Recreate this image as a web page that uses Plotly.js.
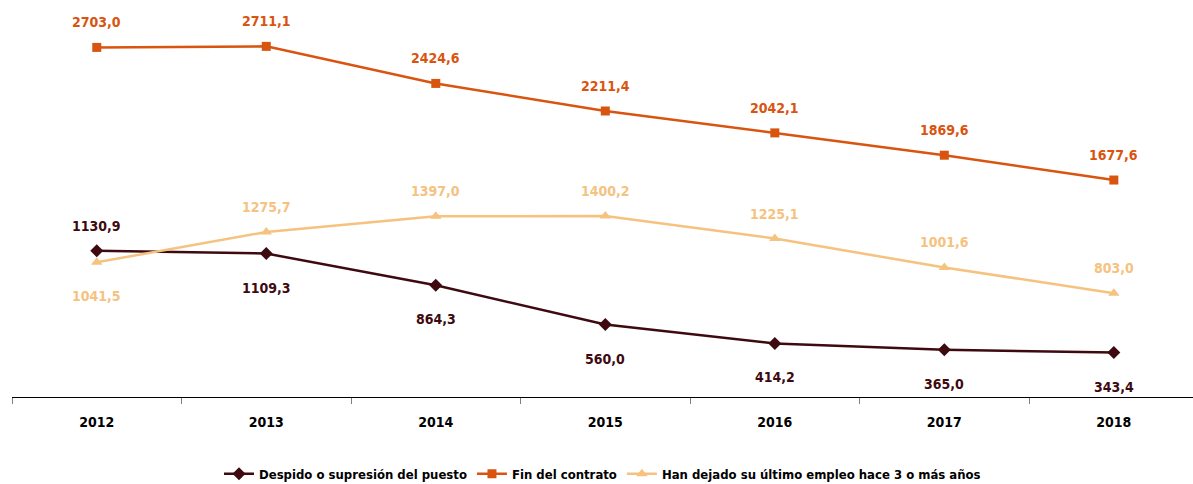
<!DOCTYPE html>
<html>
<head>
<meta charset="utf-8">
<script src="https://cdn.plot.ly/plotly-3.0.1.min.js"></script>
<style>html,body{margin:0;padding:0;background:#fff;}#chart{width:1193px;height:484px;}</style>
</head>
<body>
<div id="chart"></div>
<script>
const years = ["2012","2013","2014","2015","2016","2017","2018"];
const despido = [1130.9, 1109.3, 864.3, 560.0, 414.2, 365.0, 343.4];
const finContrato = [2703.0, 2711.1, 2424.6, 2211.4, 2042.1, 1869.6, 1677.6];
const hanDejado = [1041.5, 1275.7, 1397.0, 1400.2, 1225.1, 1001.6, 803.0];

const seriesNames = ["Despido o supresión del puesto", "Fin del contrato", "Han dejado su último empleo hace 3 o más años"];
const colors = ["#3E0A10", "#D9540F", "#F5C27F"];
const FONT = "'DejaVu Sans Condensed', 'Liberation Sans Narrow', sans-serif";

function fmt(v){ return v.toFixed(1).replace('.', ','); }

const traces = [
  {x: years, y: despido, name: seriesNames[0], mode: 'lines+markers', line:{color:colors[0], width:2.5}, marker:{symbol:'diamond', size:10, color:colors[0]}},
  {x: years, y: finContrato, name: seriesNames[1], mode: 'lines+markers', line:{color:colors[1], width:2.5}, marker:{symbol:'square', size:9, color:colors[1]}},
  {x: years, y: hanDejado, name: seriesNames[2], mode: 'lines+markers', line:{color:colors[2], width:2.5}, marker:{symbol:'triangle-up', size:10, color:colors[2]}}
];

// label placement: +1 above, -1 below
const despidoPos = [1,-1,-1,-1,-1,-1,-1];
const finPos = [1,1,1,1,1,1,1];
const hanPos = [-1,1,1,1,1,1,1];

const annotations = [];
function addLabels(vals, pos, color){
  vals.forEach((v,i)=>{
    annotations.push({x: i, y: v, xref:'x', yref:'y', text: fmt(v), showarrow:false,
      yshift: pos[i] > 0 ? 25 : -34, font:{family:FONT, size:14, color:color, weight:'bold'}});
  });
}
addLabels(despido, despidoPos, colors[0]);
addLabels(finContrato, finPos, colors[1]);
addLabels(hanDejado, hanPos, colors[2]);

const layout = {
  width: 1193, height: 484,
  margin: {l:12, r:0, t:9, b:87, autoexpand:false},
  paper_bgcolor:'#fff', plot_bgcolor:'#fff',
  font: {family: FONT, size: 14, color:'#000'},
  showlegend: true,
  legend: {orientation:'h', x:0.5, xanchor:'center', y:-0.198, yanchor:'middle',
    font:{family:FONT, size:13, color:'#000', weight:'bold'}, itemwidth:30},
  xaxis: {type:'category', range:[-0.5, 6.467], showline:true, linecolor:'#000', linewidth:1,
    ticks:'outside', tickson:'boundaries', ticklen:6, tickcolor:'#808080', showgrid:false, zeroline:false,
    ticklabelstandoff:12,
    tickfont:{family:FONT, size:14, color:'#000', weight:'bold'}},
  yaxis: {range:[0,3000], visible:false, showgrid:false, zeroline:false},
  annotations: annotations
};

Plotly.newPlot('chart', traces, layout, {displayModeBar:false, staticPlot:true});
</script>
</body>
</html>
